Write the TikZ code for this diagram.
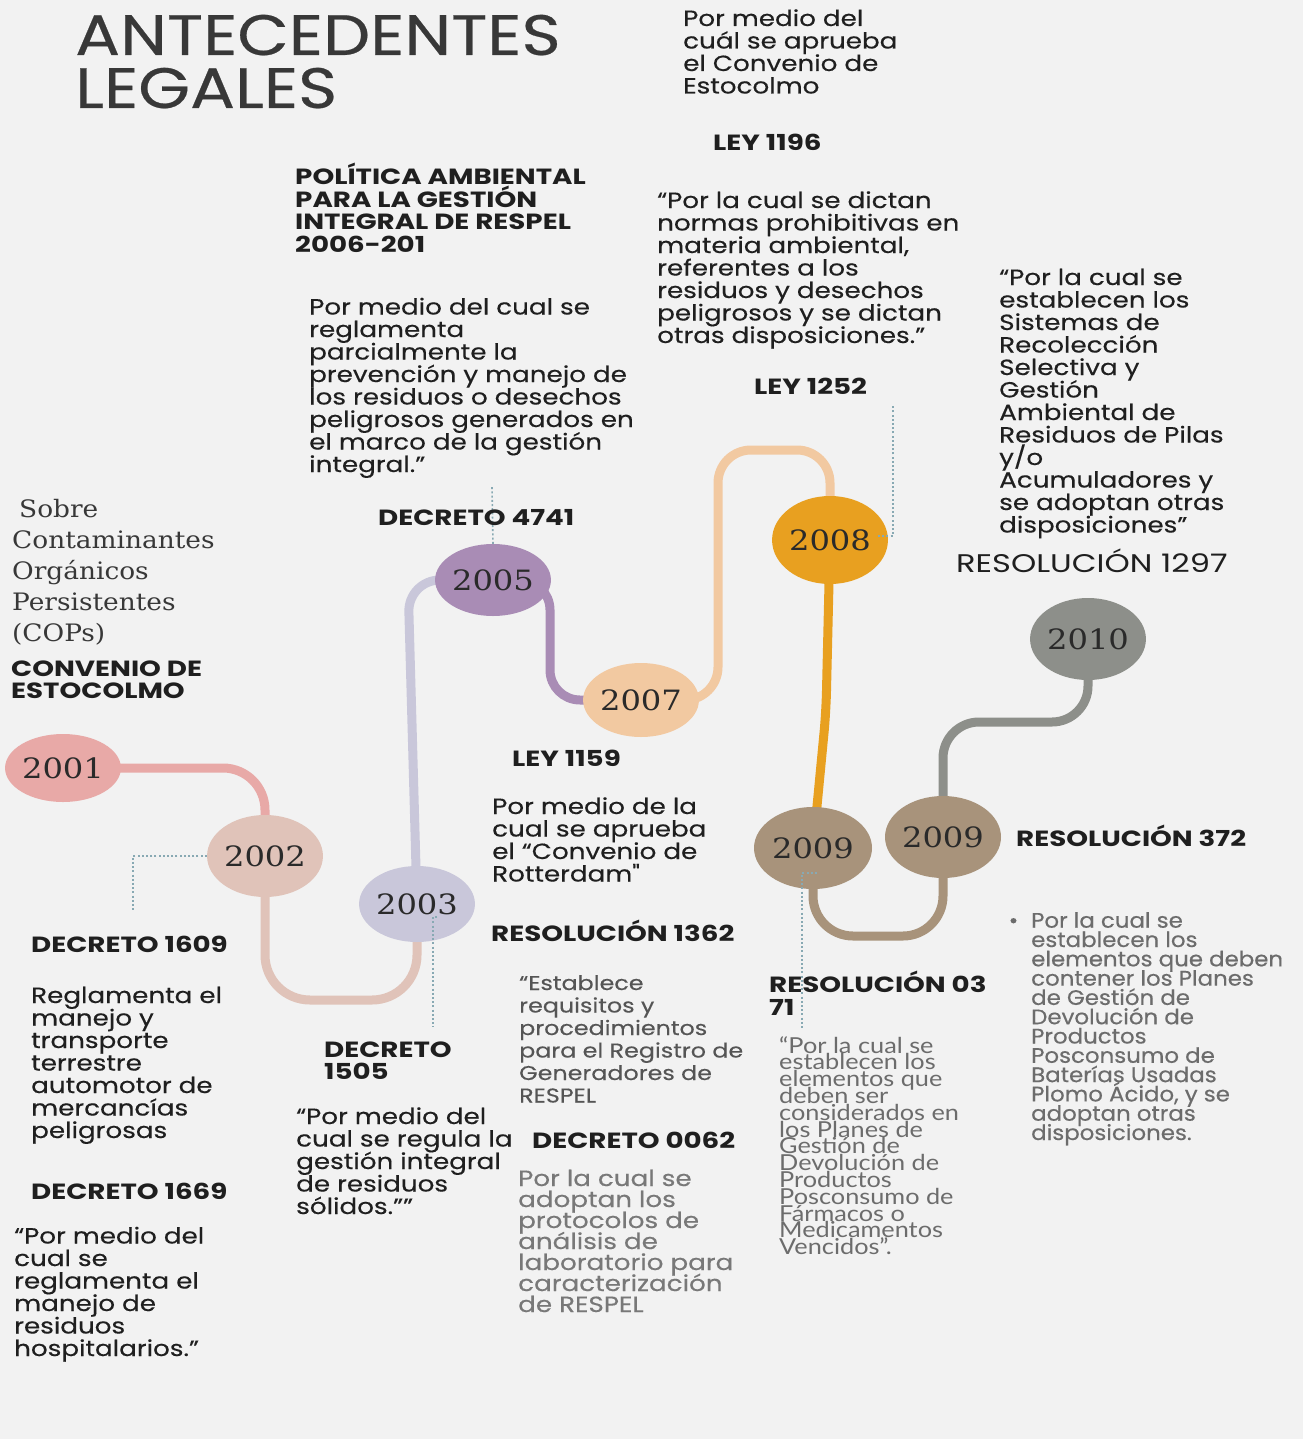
\documentclass[tikz,border=0pt]{standalone}
\usepackage{fontspec}
\setmainfont{Poppins}[FakeStretch=1.19, UprightFeatures={FakeBold=0.3}]
\newfontfamily\plainfont{Poppins}[FakeStretch=1.19, FakeBold=0.3, Ligatures=ResetAll]
\newfontfamily\headfont{Poppins}[FakeStretch=1.26]
\newfontfamily\titlefont{Poppins}[FakeStretch=1.17, FakeBold=0.4]
\newfontfamily\semifont{Poppins}[FakeBold=0.4, FakeStretch=1.09]
\newfontfamily\yearfont{DejaVu Serif}[FakeStretch=1.15]
\newfontfamily\notefont{DejaVu Serif}[FakeStretch=1.1]
\newfontfamily\latofont{Lato}[FakeStretch=1.15]
\usetikzlibrary{shapes.geometric,backgrounds}
\definecolor{bgcol}{HTML}{F2F2F2}
\definecolor{ink}{HTML}{1F1F1F}
\definecolor{titleink}{HTML}{383838}
\definecolor{yeartext}{HTML}{2A2A2A}
\definecolor{greyA}{HTML}{555555}
\definecolor{greyB}{HTML}{787878}
\definecolor{greyC}{HTML}{6C6C6C}
\definecolor{leadcol}{HTML}{88A9B3}
\definecolor{c2001}{HTML}{E8A9A7}
\definecolor{c2002}{HTML}{E0C3B9}
\definecolor{c2003}{HTML}{C9C7DA}
\definecolor{c2005}{HTML}{A98CB5}
\definecolor{c2007}{HTML}{F2C9A1}
\definecolor{c2008}{HTML}{E8A020}
\definecolor{c2009}{HTML}{A8937B}
\definecolor{c2010}{HTML}{8D8F8A}
\tikzset{
  year/.style={
    shape = ellipse,
    inner sep = 0pt,
    text = yeartext,
    font = {\yearfont\fontsize{28}{30}\selectfont}
  },
  link/.style={
    line width = 9pt
  },
  leader/.style={
    draw = leadcol,
    line width = 1.6pt,
    dash pattern = on 2pt off 2.2pt
  },
  % anchored at the baseline of the last line
  body/.style={
    anchor = base west,
    inner sep = 0pt,
    align = left,
    text = ink,
    font = {\fontsize{22}{22.5}\selectfont\lineskiplimit=-40pt}
  },
  head/.style={
    body,
    font = {\headfont\bfseries\fontsize{22}{22.5}\selectfont\lineskiplimit=-40pt}
  },
  title/.style={
    body,
    text = titleink,
    font = {\titlefont\fontsize{57}{53}\selectfont\lineskiplimit=-40pt}
  }
}
\begin{document}
\begin{tikzpicture}[x=1pt, y=-1pt]
  \useasboundingbox (0,0) rectangle (1303,1439);
  % title
  \node[title] (title) at (75,108) {ANTECEDENTES\\LEGALES};
  % years
  \foreach \nm/\yr/\x/\y/\w/\h/\col in {
      n2001/2001/63/768/108/68/c2001,
      n2002/2002/265/856/112/82/c2002,
      n2003/2003/417/904/112/76/c2003,
      n2005/2005/493/580/108/72/c2005,
      n2007/2007/641/700/104/74/c2007,
      n2008/2008/830/540/114/88/c2008,
      n2009/2009/813/848/118/82/c2009,
      n2009b/2009/943/837/116/82/c2009,
      n2010/2010/1088/639/106/82/c2010}
    \node[year, fill=\col, minimum width=\w, minimum height=\h] (\nm) at (\x,\y) {\yr};
  % timeline
  \coordinate (low23) at (340,1000);
  \coordinate (low99) at (880,936);
  \coordinate (mid910) at (1000,722);
  \begin{scope}[on background layer]
    \fill[bgcol] (0,0) rectangle (1303,1439);
    \draw[link, c2001, rounded corners=42] (n2001.center) -| (n2002.center);
    \draw[link, c2002, rounded corners=45] (n2002.center) -- (n2002.center |- low23)
      -- (n2003.center |- low23) -- (n2003.center);
    \draw[link, c2003, rounded corners=32] (n2003.center) -- (408,580) -- (n2005.center);
    \draw[link, c2005, rounded corners=30] (n2005.center) -- (550,580) -- (550,700) -- (n2007.center);
    \draw[link, c2007, rounded corners=33] (n2007.center) -| (718,450) -| (n2008.center);
    \draw[link, c2008, rounded corners=20] (n2008.center) -- (826,712) -- (n2009.center);
    \draw[link, c2009, rounded corners=40] (n2009.center) -- (n2009.center |- low99)
      -- (n2009b.center |- low99) -- (n2009b.center);
    \draw[link, c2010, rounded corners=36] (n2009b.center) -- (n2009b.center |- mid910)
      -- (n2010.center |- mid910) -- (n2010.center);
  \end{scope}
  % dotted leaders
  \coordinate (c1609) at (133,910);
  \coordinate (s2003) at (437,917);
  \coordinate (c1505) at (433,1027);
  \coordinate (c4741) at (492,487);
  \coordinate (s2008) at (878,536);
  \coordinate (c1252) at (893,405);
  \coordinate (s2009) at (817,873);
  \coordinate (c0371) at (802,1030);
  \draw[leader] (n2002.west) -| (c1609);
  \draw[leader] (s2003) -| (c1505);
  \draw[leader] (n2005.north) -- (c4741);
  \draw[leader] (s2008) -| (c1252);
  \draw[leader] (s2009) -| (c0371);
  % 2001
  \node[body, text=titleink, font={\notefont\fontsize{24}{31}\selectfont}] (cops) at (12,641)
    {\hspace*{7pt}Sobre\\Contaminantes\\Orgánicos\\Persistentes\\(COPs)};
  \node[head] (hcops) at (11,698.5) {CONVENIO DE\\ESTOCOLMO};
  % 2002
  \node[head] (h1609) at (31,952) {DECRETO 1609};
  \node[body] (t1609) at (31,1138) {Reglamenta el\\manejo y\\transporte\\terrestre\\automotor de\\mercancías\\peligrosas};
  \node[head] (h1669) at (31,1199) {DECRETO 1669};
  \node[body] (t1669) at (14,1356) {“Por medio del\\cual se\\reglamenta el\\manejo de\\residuos\\hospitalarios.”};
  % 2003
  \node[head, font={\headfont\bfseries\fontsize{22}{22}\selectfont}] (h1505) at (324,1079) {DECRETO\\1505};
  \node[body] (t1505) at (296,1214) {“Por medio del\\cual se regula la\\gestión integral\\de residuos\\sólidos.””};
  % 2005
  \node[head] (hpol) at (295,252.5) {POLÍTICA AMBIENTAL\\PARA LA GESTIÓN\\INTEGRAL DE RESPEL\\2006-201};
  \node[body] (t4741) at (309,472) {Por medio del cual se\\reglamenta\\parcialmente la\\prevención y manejo de\\los residuos o desechos\\peligrosos generados en\\el marco de la gestión\\integral.”};
  \node[head] (h4741) at (378,525) {DECRETO 4741};
  % 2007
  \node[head] (h1159) at (512,766) {LEY 1159};
  \node[body] (t1159) at (492,881.5) {Por medio de la\\cual se aprueba\\el “Convenio de\\Rotterdam{\plainfont"}};
  \node[head] (h1362) at (491,941) {RESOLUCIÓN 1362};
  \node[body, text=greyA, font={\fontsize{20}{22.5}\selectfont\lineskiplimit=-40pt}] (t1362) at (519,1102.5)
    {“Establece\\requisitos y\\procedimientos\\para el Registro de\\Generadores de\\RESPEL};
  \node[head] (h0062) at (532,1148) {DECRETO 0062};
  \node[body, text=greyB, font={\fontsize{22}{21}\selectfont\lineskiplimit=-40pt}] (t0062) at (518,1312)
    {Por la cual se\\adoptan los\\protocolos de\\análisis de\\laboratorio para\\caracterización\\de RESPEL};
  % 2008
  \node[body] (t1196a) at (683,93.5) {Por medio del\\cuál se aprueba\\el Convenio de\\Estocolmo};
  \node[head] (h1196) at (713,151) {LEY 1196};
  \node[body] (t1196) at (657,343) {“Por la cual se dictan\\normas prohibitivas en\\materia ambiental,\\referentes a los\\residuos y desechos\\peligrosos y se dictan\\otras disposiciones.”};
  \node[head] (h1252) at (754,394) {LEY 1252};
  % 2009 / 2010
  \node[body] (t1297) at (999,532.5) {“Por la cual se\\establecen los\\Sistemas de\\Recolección\\Selectiva y\\Gestión\\Ambiental de\\Residuos de Pilas\\y/o\\Acumuladores y\\se adoptan otras\\disposiciones”};
  \node[body, font={\headfont\fontsize{25.5}{26}\selectfont}] (h1297) at (956,572) {RESOLUCIÓN 1297};
  \node[head] (h372) at (1016,846) {RESOLUCIÓN 372};
  \node[body, text=greyC, font={\semifont\fontsize{21}{19.3}\selectfont\lineskiplimit=-40pt}] (t372) at (1031,1140)
    {\llap{\textbullet\hspace{13pt}}Por la cual se\\establecen los\\elementos que deben\\contener los Planes\\de Gestión de\\Devolución de\\Productos\\Posconsumo de\\Baterías Usadas\\Plomo Ácido, y se\\adoptan otras\\disposiciones.};
  \node[head, font={\headfont\bfseries\fontsize{22}{23}\selectfont}] (h0371) at (769,1015) {RESOLUCIÓN 03\\71};
  \node[body, text=greyC, font={\latofont\fontsize{22}{16.8}\selectfont\lineskiplimit=-40pt}] (t0371) at (779,1254.6)
    {“Por la cual se\\establecen los\\elementos que\\deben ser\\considerados en\\los Planes de\\Gestión de\\Devolución de\\Productos\\Posconsumo de\\Fármacos o\\Medicamentos\\Vencidos”.};
\end{tikzpicture}
\end{document}
